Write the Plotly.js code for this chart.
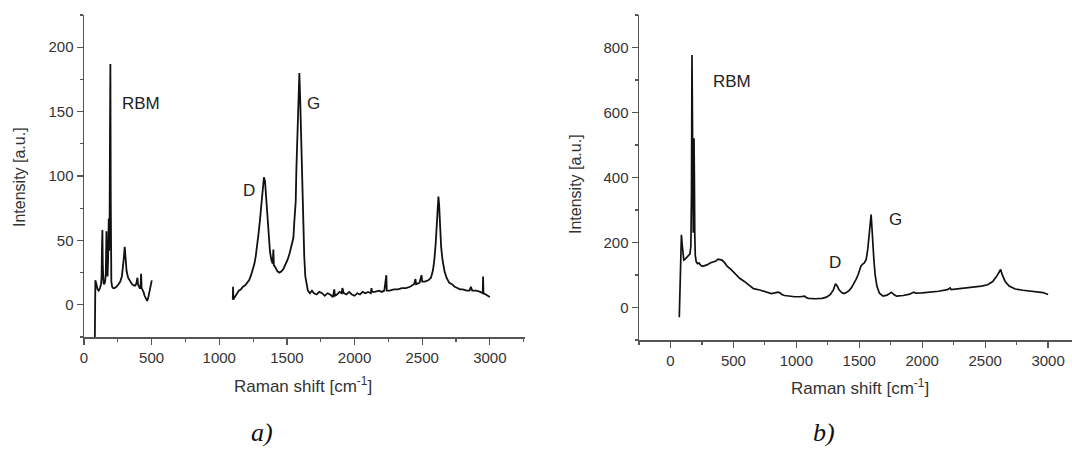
<!DOCTYPE html>
<html>
<head>
<meta charset="utf-8">
<script src="https://cdn.plot.ly/plotly-3.0.1.min.js"></script>
<style>html,body{margin:0;padding:0;background:#fff;}#chart{width:1072px;height:449px;}</style>
</head>
<body>
<div id="chart"></div>
<script>
// ---- Panel a) : RBM region ----
const aRbmX = [79,84,92,100,108,118,126,130,133,136,139,144,150,156,161,166,170,174,178,183,186,189,192,195,198,202,208,215,225,240,255,268,280,288,295,301,307,315,326,340,355,370,380,388,395,399,405,412,418,422,426,432,440,448,455,462,467,474,482,490,497,501];
const aRbmY = [-40,19,16,12,11,13,16,22,45,58,30,17,16,18,24,57,30,22,35,67,42,55,130,187,80,18,14,13,13,14,16,18,22,28,37,45,35,26,21,18,16,15,15,17,21,16,14,13,13,24,13,12,10,7,5,3,3,5,9,13,17,19];

// ---- Panel a) : D / G / 2D region ----
const aMainX = [1100,1102,1104,1115,1130,1145,1160,1175,1190,1205,1220,1235,1250,1260,1270,1280,1290,1300,1310,1320,1330,1338,1345,1355,1365,1375,1385,1395,1400,1403,1415,1430,1445,1460,1475,1490,1505,1520,1535,1548,1555,1560,1565,1570,1578,1585,1592,1598,1605,1612,1620,1628,1636,1645,1655,1670,1685,1700,1720,1740,1760,1780,1800,1820,1840,1850,1855,1870,1890,1905,1910,1920,1940,1960,1980,2000,2020,2040,2060,2080,2100,2120,2125,2130,2150,2180,2200,2220,2235,2238,2260,2290,2320,2350,2380,2410,2440,2450,2455,2480,2495,2500,2520,2545,2565,2580,2590,2600,2608,2615,2620,2625,2632,2640,2650,2665,2680,2700,2720,2740,2760,2780,2800,2830,2850,2860,2870,2900,2930,2948,2950,2953,2970,2985,3000];
const aMainY = [4,14,4,6,9,11,12,14,15,17,19,23,28,32,38,45,55,65,77,90,99,96,85,68,52,41,35,32,43,31,29,26,25,26,28,31,35,40,46,52,65,76,80,105,140,168,180,160,125,90,60,38,22,15,11,9,11,9,8,10,9,7,9,8,6,12,7,8,10,9,13,9,8,10,8,7,9,8,10,9,10,9,13,10,10,11,10,11,23,11,11,12,12,13,13,14,16,20,16,17,23,18,18,19,21,27,35,48,62,78,84,78,62,45,35,26,21,17,16,14,13,12,12,11,11,14,11,11,10,9,22,9,8,7,6];

// ---- Panel b) ----
const bX = [70,87,94,100,106,115,125,135,145,155,162,167,171,175,178,181,184,187,190,193,197,205,215,227,240,255,270,290,315,340,360,378,396,410,430,450,480,520,550,584,620,660,709,740,773,800,830,854,870,885,907,950,988,1030,1066,1078,1096,1150,1204,1240,1271,1295,1311,1325,1338,1360,1379,1400,1419,1440,1460,1473,1490,1505,1513,1525,1540,1555,1567,1580,1590,1594,1600,1608,1616,1626,1640,1660,1689,1720,1745,1756,1775,1796,1850,1900,1931,1950,2000,2066,2130,2200,2222,2230,2300,2400,2470,2520,2560,2590,2610,2623,2635,2658,2690,2739,2800,2873,2920,2960,3000];
const bY = [-30,224,190,160,146,148,152,157,160,165,190,350,777,500,300,230,400,521,400,230,160,140,135,137,130,127,128,131,137,140,143,149,147,146,138,127,117,100,90,81,70,58,54,50,45,43,45,47,45,40,37,34,33,33,35,31,28,27,28,32,40,55,73,66,55,46,43,47,52,62,75,86,100,118,127,133,137,148,178,230,270,286,250,190,147,100,66,44,35,38,44,47,40,35,37,41,47,44,45,47,50,55,60,55,58,62,66,70,80,95,108,117,102,81,66,57,53,50,48,46,40];

// ---- Tick / label text ----
const yTitle = "Intensity [a.u.]";
const xTitle = "Raman shift [cm<sup>-1</sup>]";
const panelLabels = ["a)", "b)"];
const peakLabelsA = [{t:"RBM", x:420, y:156}, {t:"D", x:1222, y:89}, {t:"G", x:1699, y:156}];
const peakLabelsB = [{t:"RBM", x:490, y:695}, {t:"D", x:1311, y:137}, {t:"G", x:1791, y:272}];

const W = 1072, H = 449;
const FONT = "Liberation Sans, Arial, sans-serif";
const TXT = "#333";
const AX = "#555";

const traces = [
  {x: aRbmX, y: aRbmY, xaxis: "x", yaxis: "y", mode: "lines", line: {color: "#111", width: 1.8}, hoverinfo: "skip"},
  {x: aMainX, y: aMainY, xaxis: "x", yaxis: "y", mode: "lines", line: {color: "#111", width: 1.8}, hoverinfo: "skip"},
  {x: bX, y: bY, xaxis: "x2", yaxis: "y2", mode: "lines", line: {color: "#111", width: 1.7}, hoverinfo: "skip"}
];

function axis(extra) {
  return Object.assign({
    showline: true, linecolor: AX, linewidth: 1.5,
    showgrid: false, zeroline: false,
    ticks: "outside", ticklen: 6, tickwidth: 1.3, tickcolor: AX,
    tickfont: {family: FONT, size: 15, color: TXT},
    fixedrange: true
  }, extra);
}

const annotations = [];
function px(x) { return x / W; }
function py(y) { return 1 - y / H; }
function paperText(x, y, text, font, angle) {
  annotations.push({xref: "paper", yref: "paper", x: px(x), y: py(y), xanchor: "center", yanchor: "middle",
                    text: text, textangle: angle || 0, showarrow: false, font: font});
}
const yTitleFont = {family: FONT, size: 16, color: TXT};
const xTitleFont = {family: FONT, size: 17, color: TXT};
const panelFont = {family: "Liberation Serif, Times New Roman, serif", size: 26, color: "#111"};
const peakFont = {family: FONT, size: 17, color: "#222"};
// axis titles
paperText(19, 177, yTitle, yTitleFont, -90);
paperText(575, 184, yTitle, yTitleFont, -90);
paperText(303, 385, xTitle, xTitleFont);
paperText(860, 387, xTitle, xTitleFont);
// panel labels
paperText(262, 432, "<i>" + panelLabels[0] + "</i>", panelFont);
paperText(824, 432, "<i>" + panelLabels[1] + "</i>", panelFont);
// peak labels
peakLabelsA.forEach(p => annotations.push({xref: "x", yref: "y", x: p.x, y: p.y, xanchor: "center", yanchor: "middle", text: p.t, showarrow: false, font: peakFont}));
peakLabelsB.forEach(p => annotations.push({xref: "x2", yref: "y2", x: p.x, y: p.y, xanchor: "center", yanchor: "middle", text: p.t, showarrow: false, font: peakFont}));

const layout = {
  width: W, height: H,
  margin: {l: 0, r: 0, t: 0, b: 0, pad: 0},
  paper_bgcolor: "#fff", plot_bgcolor: "#fff",
  showlegend: false,
  xaxis: axis({domain: [84/W, 525/W], range: [0, 3260], dtick: 500, tick0: 0, anchor: "y",
               minor: {ticks: "outside", ticklen: 3, dtick: 250, tick0: 0, tickcolor: AX, tickwidth: 1.2}}),
  yaxis: axis({domain: [py(337), py(15)], range: [-25, 225], dtick: 50, tick0: 0, anchor: "x",
               minor: {ticks: "outside", ticklen: 3, dtick: 25, tick0: 0, tickcolor: AX, tickwidth: 1.2}}),
  xaxis2: axis({domain: [639/W, 1], range: [-250, 3190], dtick: 500, tick0: 0, anchor: "y2",
               minor: {ticks: "outside", ticklen: 3, dtick: 250, tick0: 0, tickcolor: AX, tickwidth: 1.2}}),
  yaxis2: axis({domain: [py(340), py(15)], range: [-100, 900], dtick: 200, tick0: 0, anchor: "x2",
               minor: {ticks: "outside", ticklen: 3, dtick: 100, tick0: 0, tickcolor: AX, tickwidth: 1.2}}),
  annotations: annotations
};

Plotly.newPlot("chart", traces, layout, {displayModeBar: false, staticPlot: true});
</script>
</body>
</html>
